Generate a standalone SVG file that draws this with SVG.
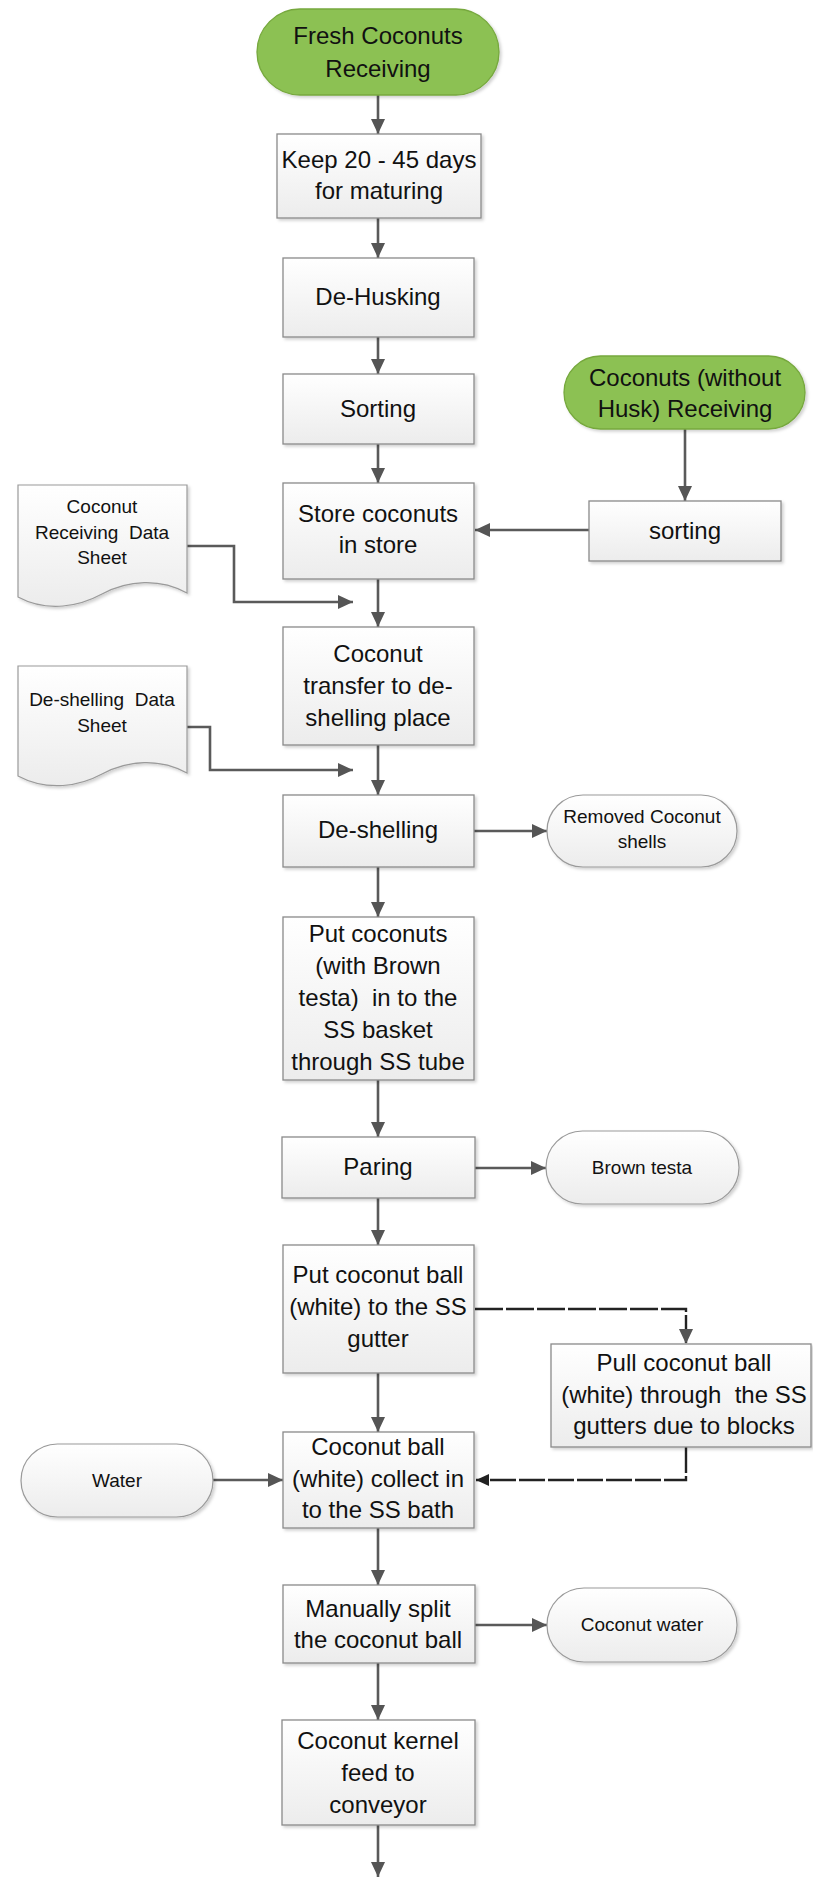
<svg xmlns="http://www.w3.org/2000/svg" width="813" height="1878" viewBox="0 0 813 1878">
  <style>
    .box { fill: url(#boxFill); stroke: #8a8a8a; stroke-width: 1.3; filter: url(#shadow); }
    .term { fill: url(#boxFill); stroke: #9a9a9a; stroke-width: 1.2; filter: url(#shadow); }
    .start { fill: #8cc152; stroke: #76a83e; stroke-width: 1.3; filter: url(#shadow); }
    .doc { fill: url(#boxFill); stroke: #9a9a9a; stroke-width: 1.2; filter: url(#shadow); }
    .t { font-family: "Liberation Sans", Arial, sans-serif; font-size: 24px; fill: #111; text-anchor: middle; white-space: pre; }
    .s { font-family: "Liberation Sans", Arial, sans-serif; font-size: 19px; fill: #111; text-anchor: middle; white-space: pre; }
    .flow { fill: none; stroke: #5a5a5a; stroke-width: 2.6; marker-end: url(#arrow); }
    .dash { fill: none; stroke: #222; stroke-width: 2.4; stroke-dasharray: 28 3; marker-end: url(#arrow); }
    .dark { fill: none; stroke: #222; stroke-width: 2.4; stroke-dasharray: 26 3; marker-end: url(#arrowDark); }
  </style>
  <defs>
    <linearGradient id="boxFill" x1="0" y1="0" x2="0" y2="1">
      <stop offset="0" stop-color="#ffffff"/>
      <stop offset="1" stop-color="#ececec"/>
    </linearGradient>
    <filter id="shadow" x="-10%" y="-10%" width="130%" height="130%">
      <feDropShadow dx="2" dy="2" stdDeviation="1.5" flood-color="#000" flood-opacity="0.18"/>
    </filter>
    <marker id="arrow" markerUnits="userSpaceOnUse" markerWidth="16" markerHeight="16" refX="15" refY="8" orient="auto">
      <path d="M0,1 L15,8 L0,15 z" fill="#555"/>
    </marker>
    <marker id="arrowDark" markerUnits="userSpaceOnUse" markerWidth="14" markerHeight="14" refX="13" refY="7" orient="auto">
      <path d="M0,1 L13,7 L0,13 z" fill="#222"/>
    </marker>
  </defs>

  <!-- connectors -->
  <g id="connectors">
    <path class="flow" d="M378,95 V134"/>
    <path class="flow" d="M378,218 V258"/>
    <path class="flow" d="M378,337 V374"/>
    <path class="flow" d="M378,444 V483"/>
    <path class="flow" d="M685,429 V501"/>
    <path class="flow" d="M589,530 H475"/>
    <path class="flow" d="M187,546 H234 V602 H353"/>
    <path class="flow" d="M378,579 V627"/>
    <path class="flow" d="M187,727 H210 V770 H353"/>
    <path class="flow" d="M378,745 V795"/>
    <path class="flow" d="M474,831 H547"/>
    <path class="flow" d="M378,867 V917"/>
    <path class="flow" d="M378,1080 V1137"/>
    <path class="flow" d="M475,1168 H546"/>
    <path class="flow" d="M378,1198 V1245"/>
    <path class="dash" d="M475,1309 H686 V1344"/>
    <path class="dark" d="M686,1447 V1480 H476"/>
    <path class="flow" d="M378,1373 V1432"/>
    <path class="flow" d="M212,1480 H283"/>
    <path class="flow" d="M378,1528 V1585"/>
    <path class="flow" d="M474,1625 H547"/>
    <path class="flow" d="M378,1663 V1720"/>
    <path class="flow" d="M378,1825 V1877"/>
  </g>

  <!-- start terminals -->
  <g id="fresh-coconuts">
    <rect class="start" x="257" y="9" width="242" height="86" rx="43"/>
    <text class="t" x="378" y="44">Fresh Coconuts</text>
    <text class="t" x="378" y="77">Receiving</text>
  </g>
  <g id="coconuts-without-husk">
    <rect class="start" x="564" y="356" width="241" height="73" rx="36.5"/>
    <text class="t" x="685" y="386">Coconuts (without</text>
    <text class="t" x="685" y="417">Husk) Receiving</text>
  </g>

  <!-- process steps -->
  <g id="keep-maturing">
    <rect class="box" x="277" y="134" width="204" height="84"/>
    <text class="t" x="379" y="168">Keep 20 - 45 days</text>
    <text class="t" x="379" y="199">for maturing</text>
  </g>
  <g id="de-husking">
    <rect class="box" x="283" y="258" width="191" height="79"/>
    <text class="t" x="378" y="305">De-Husking</text>
  </g>
  <g id="sorting">
    <rect class="box" x="283" y="374" width="191" height="70"/>
    <text class="t" x="378" y="417">Sorting</text>
  </g>
  <g id="sorting-2">
    <rect class="box" x="589" y="501" width="192" height="60"/>
    <text class="t" x="685" y="539">sorting</text>
  </g>
  <g id="store-coconuts">
    <rect class="box" x="283" y="483" width="191" height="96"/>
    <text class="t" x="378" y="522">Store coconuts</text>
    <text class="t" x="378" y="553">in store</text>
  </g>
  <g id="receiving-sheet">
    <path class="doc" d="M18,485 H187 V593 C160,578 128,580 102,594 C80,606 48,613 18,597 Z"/>
    <text class="s" x="102" y="513">Coconut</text>
    <text class="s" x="102" y="539">Receiving  Data</text>
    <text class="s" x="102" y="564">Sheet</text>
  </g>
  <g id="transfer">
    <rect class="box" x="283" y="627" width="191" height="118"/>
    <text class="t" x="378" y="662">Coconut</text>
    <text class="t" x="378" y="694">transfer to de-</text>
    <text class="t" x="378" y="726">shelling place</text>
  </g>
  <g id="deshelling-sheet">
    <path class="doc" d="M18,666 H187 V773 C160,758 128,760 102,774 C80,786 48,792 18,776 Z"/>
    <text class="s" x="102" y="706">De-shelling  Data</text>
    <text class="s" x="102" y="732">Sheet</text>
  </g>
  <g id="de-shelling">
    <rect class="box" x="283" y="795" width="191" height="72"/>
    <text class="t" x="378" y="838">De-shelling</text>
  </g>
  <g id="removed-shells">
    <rect class="term" x="547" y="795" width="190" height="72" rx="36"/>
    <text class="s" x="642" y="823">Removed Coconut</text>
    <text class="s" x="642" y="848">shells</text>
  </g>
  <g id="put-coconuts">
    <rect class="box" x="283" y="917" width="191" height="163"/>
    <text class="t" x="378" y="942">Put coconuts</text>
    <text class="t" x="378" y="974">(with Brown</text>
    <text class="t" x="378" y="1006">testa)  in to the</text>
    <text class="t" x="378" y="1038">SS basket</text>
    <text class="t" x="378" y="1070">through SS tube</text>
  </g>
  <g id="paring">
    <rect class="box" x="282" y="1137" width="193" height="61"/>
    <text class="t" x="378" y="1175">Paring</text>
  </g>
  <g id="brown-testa">
    <rect class="term" x="546" y="1131" width="193" height="73" rx="36.5"/>
    <text class="s" x="642" y="1174">Brown testa</text>
  </g>
  <g id="put-ball">
    <rect class="box" x="283" y="1245" width="191" height="128"/>
    <text class="t" x="378" y="1283">Put coconut ball</text>
    <text class="t" x="378" y="1315">(white) to the SS</text>
    <text class="t" x="378" y="1347">gutter</text>
  </g>
  <g id="pull-ball">
    <rect class="box" x="551" y="1344" width="260" height="103"/>
    <text class="t" x="684" y="1371">Pull coconut ball</text>
    <text class="t" x="684" y="1403">(white) through  the SS</text>
    <text class="t" x="684" y="1434">gutters due to blocks</text>
  </g>
  <g id="water">
    <rect class="term" x="21" y="1444" width="192" height="73" rx="36.5"/>
    <text class="s" x="117" y="1487">Water</text>
  </g>
  <g id="collect-bath">
    <rect class="box" x="283" y="1432" width="191" height="96"/>
    <text class="t" x="378" y="1455">Coconut ball</text>
    <text class="t" x="378" y="1487">(white) collect in</text>
    <text class="t" x="378" y="1518">to the SS bath</text>
  </g>
  <g id="split-ball">
    <rect class="box" x="283" y="1585" width="192" height="78"/>
    <text class="t" x="378" y="1617">Manually split</text>
    <text class="t" x="378" y="1648">the coconut ball</text>
  </g>
  <g id="coconut-water">
    <rect class="term" x="547" y="1588" width="190" height="74" rx="37"/>
    <text class="s" x="642" y="1631">Coconut water</text>
  </g>
  <g id="kernel-feed">
    <rect class="box" x="282" y="1720" width="193" height="105"/>
    <text class="t" x="378" y="1749">Coconut kernel</text>
    <text class="t" x="378" y="1781">feed to</text>
    <text class="t" x="378" y="1813">conveyor</text>
  </g>
</svg>
